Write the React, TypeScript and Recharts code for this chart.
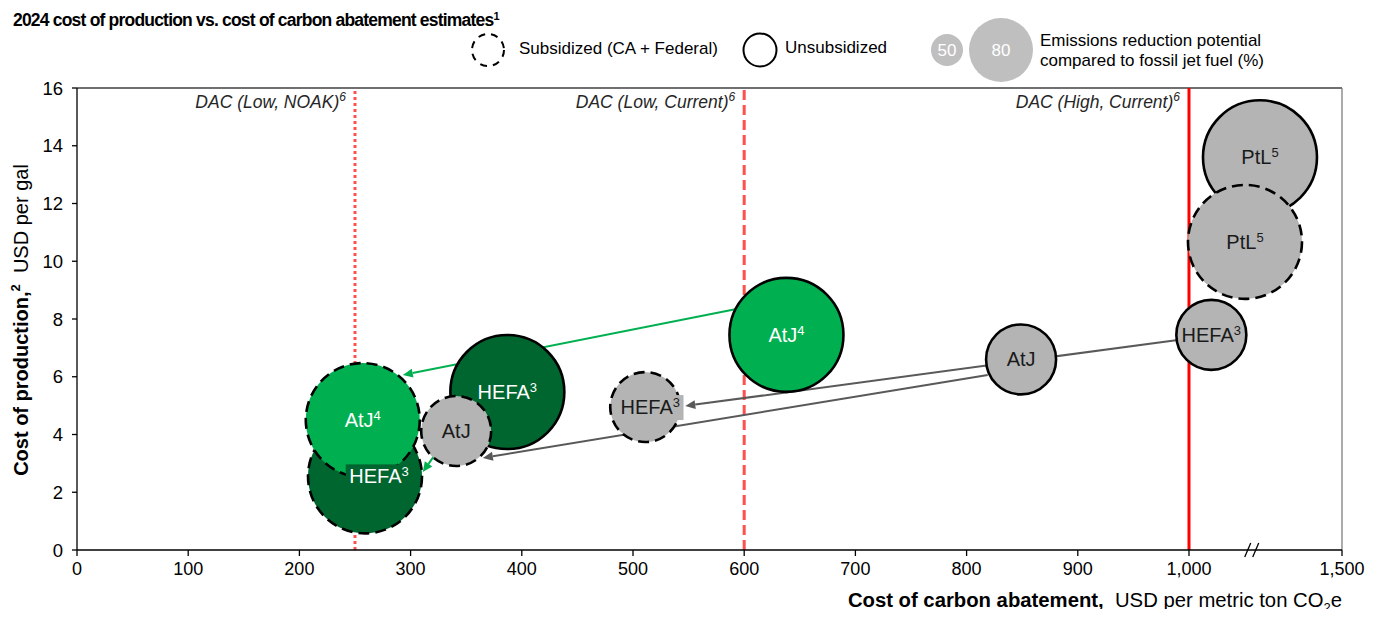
import React from 'react';
import { ScatterChart, Scatter, XAxis, YAxis, ZAxis, ReferenceLine, ReferenceDot } from 'recharts';

const FONT = '"Liberation Sans", Arial, Helvetica, sans-serif';

// ---------------- data ----------------
const pathways = ['PtL', 'PtL', 'HEFA', 'AtJ', 'HEFA', 'AtJ', 'HEFA', 'AtJ', 'AtJ', 'HEFA'];
const footnotes = ['5', '5', '3', '4', '3', '', '3', '4', '', '3'];
const abatementCost = [1232, 1183, 259, 257, 387, 341, 511, 638, 849, 1073]; // USD per t CO2e
const productionCost = [13.6, 10.67, 2.55, 4.5, 5.47, 4.12, 4.95, 7.45, 6.6, 7.45]; // USD per gal
const emissionsReduction = [80, 80, 80, 80, 80, 50, 50, 80, 50, 50]; // %
const subsidized = [false, true, true, true, false, true, true, false, false, false];
const colorGroup = ['other', 'other', 'hefaGreen', 'atjGreen', 'hefaGreen', 'other', 'other', 'atjGreen', 'other', 'other'];

const dacCosts = [250, 600, 1000];
const dacLabels = ['DAC (Low, NOAK)', 'DAC (Low, Current)', 'DAC (High, Current)'];

const arrowFromX = [601, 331, 995, 819];
const arrowFromY = [8.41, 3.81, 7.3, 6.06];
const arrowToX = [293, 311, 547, 365];
const arrowToY = [6.06, 2.7, 4.99, 3.19];
const arrowGroup = ['atjGreen', 'hefaGreen', 'other', 'other'];

const xTickValues = [0, 100, 200, 300, 400, 500, 600, 700, 800, 900, 1000, 1500];
const yTickValues = [0, 2, 4, 6, 8, 10, 12, 14, 16];
const axisBreakAt = 1205;

// ---------------- broken x scale helpers ----------------
const X_BREAK = 1000;
const X_END = 1500;
const COMPRESSED_SPAN = 137.6; // display units used for 1000..1500
const toDisplay = (v: number) => (v <= X_BREAK ? v : X_BREAK + ((v - X_BREAK) * COMPRESSED_SPAN) / (X_END - X_BREAK));
const fromDisplay = (d: number) => (d <= X_BREAK ? d : X_BREAK + ((d - X_BREAK) * (X_END - X_BREAK)) / COMPRESSED_SPAN);
const X_DOMAIN_MAX = toDisplay(X_END);

const FILL: Record<string, string> = { hefaGreen: '#00662F', atjGreen: '#00B050', other: '#B4B4B4' };
const TEXT: Record<string, string> = { hefaGreen: '#FFFFFF', atjGreen: '#FFFFFF', other: '#1A1A1A' };
const ARROW: Record<string, string> = { hefaGreen: '#00B050', atjGreen: '#00B050', other: '#595959' };

const bubbles = pathways.map((p, i) => ({
  id: i,
  name: p,
  sup: footnotes[i],
  dx: toDisplay(abatementCost[i]),
  y: productionCost[i],
  z: emissionsReduction[i],
  sub: subsidized[i],
  group: colorGroup[i],
}));

// label tweaks (style only)
const LABEL_DX: Record<number, number> = { 2: 14, 6: 5 };
const LABEL_BOX = new Set([2, 6]);

const CW: Record<string, number> = { H: 0.722, E: 0.667, F: 0.611, A: 0.667, t: 0.278, J: 0.5, P: 0.667, L: 0.556 };
const textWidth = (s: string, fs: number) => s.split('').reduce((a, c) => a + (CW[c] ?? 0.556) * fs, 0);

const Bubble = (props: any) => {
  const { cx, cy, width, payload } = props;
  const r = width / 2;
  return (
    <circle
      cx={cx}
      cy={cy}
      r={r}
      fill={FILL[payload.group]}
      stroke="#000"
      strokeWidth={2.6}
      strokeDasharray={payload.sub ? '11 6' : undefined}
    />
  );
};

const BubbleLabel = (props: any) => {
  const { cx, cy, payload } = props;
  const fs = 20;
  const sfs = 13;
  const ox = LABEL_DX[payload.id] ?? 0;
  const w = textWidth(payload.name, fs) + (payload.sup ? 0.556 * sfs : 0);
  const x = cx + ox;
  return (
    <g>
      {LABEL_BOX.has(payload.id) && (
        <rect x={x - w / 2 - 3} y={cy - 12} width={w + 6} height={25} fill={FILL[payload.group]} />
      )}
      <text x={x} y={cy + 7} textAnchor="middle" fontFamily={FONT} fontSize={fs} fill={TEXT[payload.group]}>
        {payload.name}
        {payload.sup && (
          <tspan dy={-7} fontSize={sfs}>
            {payload.sup}
          </tspan>
        )}
      </text>
    </g>
  );
};

const makeArrow = (color: string) => (props: any) => {
  const { x1, y1, x2, y2 } = props;
  const ang = Math.atan2(y2 - y1, x2 - x1);
  const L = 10;
  const W = 4.5;
  const bx = x2 - L * Math.cos(ang);
  const by = y2 - L * Math.sin(ang);
  const px = -Math.sin(ang) * W;
  const py = Math.cos(ang) * W;
  return (
    <g>
      <line x1={x1} y1={y1} x2={bx} y2={by} stroke={color} strokeWidth={2} />
      <polygon points={`${x2},${y2} ${bx + px},${by + py} ${bx - px},${by - py}`} fill={color} />
    </g>
  );
};

const DAC_STYLE = [
  { stroke: '#FF5050', dash: '3 3' },
  { stroke: '#FF5050', dash: '10 5' },
  { stroke: '#FF0000', dash: undefined },
];

const dacLabel = (text: string) => (props: any) => {
  const vb = props.viewBox || {};
  return (
    <text x={vb.x - 9} y={vb.y + 20} textAnchor="end" fontFamily={FONT} fontSize={17.5} fontStyle="italic" fill="#262626">
      {text}
      <tspan dy={-7} fontSize={12}>
        6
      </tspan>
    </text>
  );
};

const BreakMark = (props: any) => {
  const { cx, cy } = props;
  return (
    <g stroke="#000" strokeWidth={1.3}>
      <line x1={cx - 7} y1={cy + 7} x2={cx - 1} y2={cy - 7} />
      <line x1={cx + 1} y1={cy + 7} x2={cx + 7} y2={cy - 7} />
    </g>
  );
};

const W = 1368;
const H = 601;

export default function App() {
  return (
    <div style={{ position: 'relative', width: W, height: H, fontFamily: FONT }}>
      <ScatterChart width={W} height={H} margin={{ top: 80, right: 34, bottom: 0, left: 0 }}>
        <XAxis
          type="number"
          dataKey="dx"
          domain={[0, X_DOMAIN_MAX]}
          ticks={xTickValues.map(toDisplay)}
          tickFormatter={(v: number) => Math.round(fromDisplay(v)).toLocaleString('en-US')}
          height={59}
          axisLine={{ stroke: '#000', strokeWidth: 1.3 }}
          tickLine={{ stroke: '#000', strokeWidth: 1.3 }}
          tickSize={6}
          tickMargin={6}
          tick={{ fill: '#000', fontSize: 18, fontFamily: FONT }}
          allowDataOverflow
        />
        <YAxis
          type="number"
          dataKey="y"
          domain={[0, 16]}
          ticks={yTickValues}
          width={69}
          axisLine={{ stroke: '#000', strokeWidth: 1.3 }}
          tickLine={{ stroke: '#000', strokeWidth: 1.3 }}
          tickSize={5}
          tickMargin={9}
          tick={{ fill: '#000', fontSize: 18.5, fontFamily: FONT }}
          allowDataOverflow
        />
        <ZAxis type="number" dataKey="z" domain={[50, 80]} range={[3848, 10207]} />

        <ReferenceLine y={16} stroke="#404040" strokeWidth={1.3} />
        <ReferenceLine x={X_DOMAIN_MAX} stroke="#7F7F7F" strokeWidth={1.3} />

        {dacCosts.map((c, i) => (
          <ReferenceLine
            key={`dac${i}`}
            x={toDisplay(c)}
            stroke={DAC_STYLE[i].stroke}
            strokeWidth={3}
            strokeDasharray={DAC_STYLE[i].dash}
            label={dacLabel(dacLabels[i])}
          />
        ))}

        {arrowFromX.map((_, i) => (
          <ReferenceLine
            key={`arr${i}`}
            segment={[
              { x: toDisplay(arrowFromX[i]), y: arrowFromY[i] },
              { x: toDisplay(arrowToX[i]), y: arrowToY[i] },
            ]}
            shape={makeArrow(ARROW[arrowGroup[i]])}
          />
        ))}

        <Scatter data={bubbles} shape={<Bubble />} isAnimationActive={false} />
        <Scatter data={bubbles} shape={<BubbleLabel />} isAnimationActive={false} />

        <ReferenceDot x={toDisplay(axisBreakAt)} y={0} shape={<BreakMark />} />
      </ScatterChart>

      <svg
        width={W}
        height={H + 8}
        style={{ position: 'absolute', left: 0, top: 0, overflow: 'visible', pointerEvents: 'none' }}
      >
        <text x={5} y={18} fontFamily={FONT} fontSize={17.5} fontWeight="bold" letterSpacing={-0.8} fill="#000">
          2024 cost of production vs. cost of carbon abatement estimates
          <tspan dy={-6} fontSize={11}>
            1
          </tspan>
        </text>

        <circle cx={480} cy={42} r={16} fill="none" stroke="#000" strokeWidth={2} strokeDasharray="7 6" />
        <text x={511} y={46} fontFamily={FONT} fontSize={17} fill="#000">
          Subsidized (CA + Federal)
        </text>
        <circle cx={752} cy={42} r={16.5} fill="none" stroke="#000" strokeWidth={2} />
        <text x={777} y={45} fontFamily={FONT} fontSize={17} fill="#000">
          Unsubsidized
        </text>

        <circle cx={939} cy={42} r={16} fill="#BFBFBF" />
        <text x={939} y={48} textAnchor="middle" fontFamily={FONT} fontSize={17} fill="#FFFFFF">
          50
        </text>
        <circle cx={993} cy={42} r={32} fill="#BFBFBF" />
        <text x={993} y={48} textAnchor="middle" fontFamily={FONT} fontSize={17} fill="#FFFFFF">
          80
        </text>
        <text x={1032} y={38} fontFamily={FONT} fontSize={17} fill="#000">
          Emissions reduction potential
        </text>
        <text x={1032} y={58} fontFamily={FONT} fontSize={17} fill="#000">
          compared to fossil jet fuel (%)
        </text>

        <text x={20} y={312} transform="rotate(-90 20 312)" textAnchor="middle" fontFamily={FONT} fontSize={20} fill="#000">
          <tspan fontWeight="bold">Cost of production,</tspan>
          <tspan dy={-8} fontSize={13} fontWeight="bold">
            2
          </tspan>
          <tspan dy={8}>{'\u00A0\u00A0USD per gal'}</tspan>
        </text>

        <text x={1334} y={599} textAnchor="end" fontFamily={FONT} fontSize={20.3} fill="#000">
          <tspan fontWeight="bold">Cost of carbon abatement,</tspan>
          <tspan>{'\u00A0\u00A0USD per metric ton CO'}</tspan>
          <tspan dy={5} fontSize={13}>
            2
          </tspan>
          <tspan dy={-5}>e</tspan>
        </text>
      </svg>
    </div>
  );
}
